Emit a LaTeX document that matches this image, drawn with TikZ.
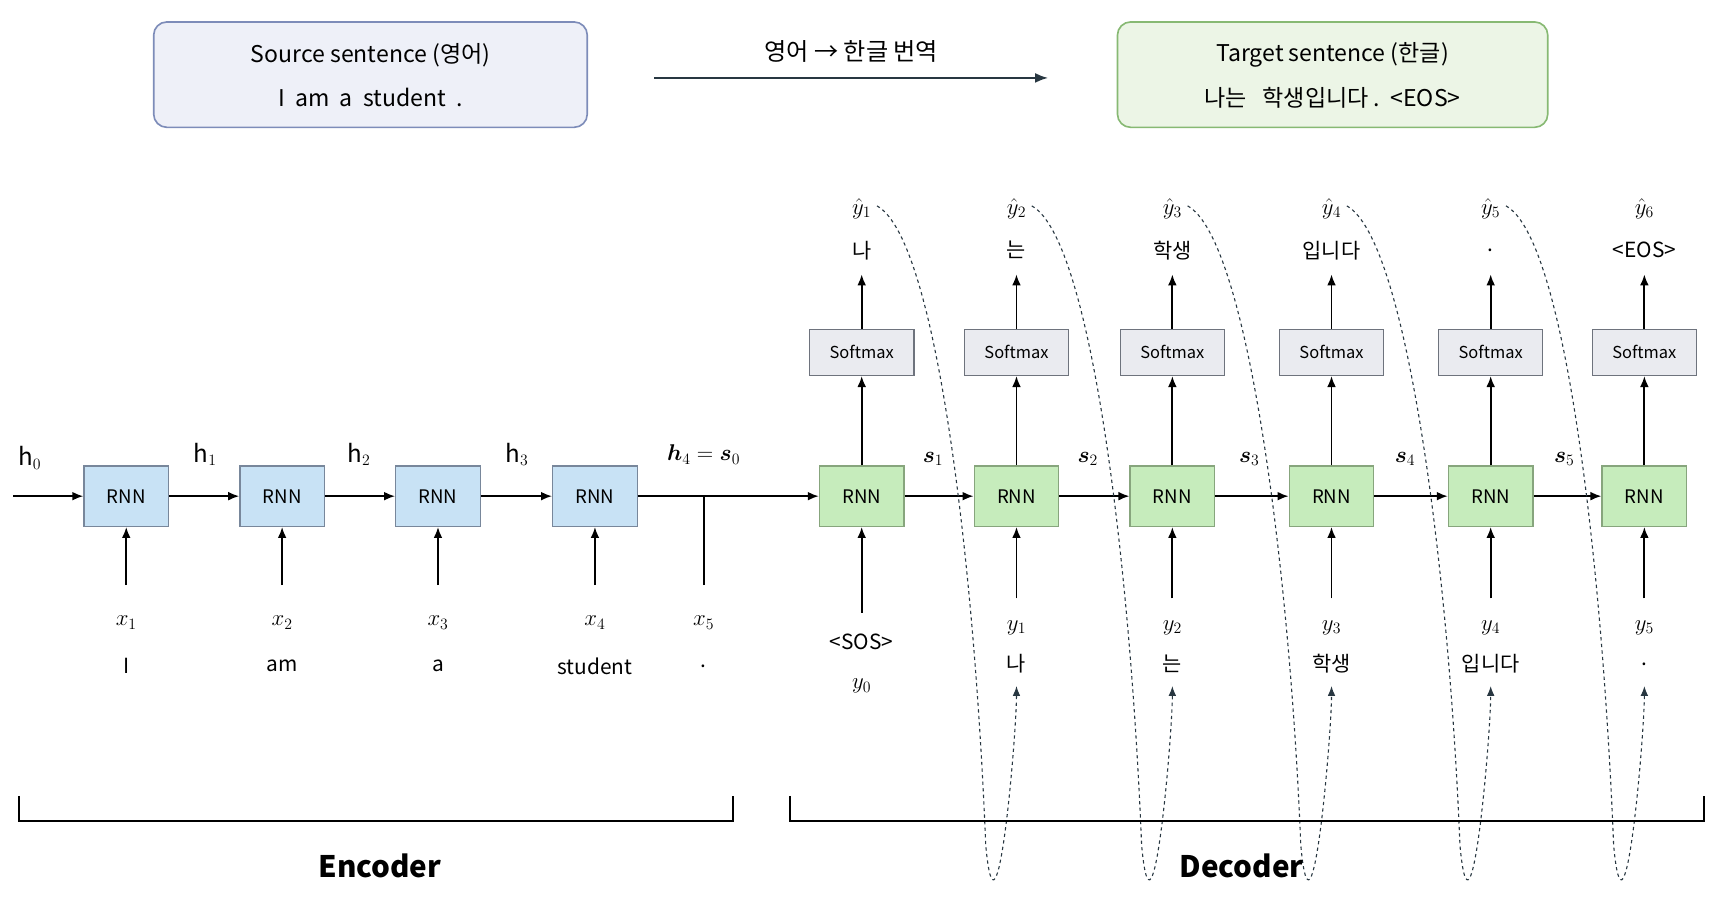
\documentclass[tikz,border=0pt]{standalone}
\usepackage{amsmath}
\usepackage{fontspec}
\setmainfont{Noto Sans CJK KR}
\usetikzlibrary{arrows.meta}

\begin{document}
\begin{tikzpicture}[x=1pt,y=-1pt,
    encbox/.style={shape=rectangle,draw=encline,fill=encfill,line width=1.2pt,minimum width=77pt,minimum height=55pt,font=\fontsize{17}{20}\selectfont},
    decbox/.style={shape=rectangle,draw=decline,fill=decfill,line width=1.2pt,minimum width=77pt,minimum height=55pt,font=\fontsize{17}{20}\selectfont},
    smbox/.style={shape=rectangle,draw=smline,fill=smfill,line width=1.2pt,minimum width=95pt,minimum height=42pt,font=\fontsize{15}{18}\selectfont},
    lbl/.style={font=\fontsize{22}{26}\selectfont,inner sep=1pt},
    word/.style={font=\fontsize{19}{22}\selectfont,inner sep=1pt},
    arr/.style={line width=1.6pt,-{Latex[length=10pt,width=8pt]}},
    fb/.style={dashed,line width=1pt,-{Latex[length=9pt,width=7pt]},draw=black!85,color=fbtip}]
    \definecolor{encfill}{RGB}{200,226,245}
    \definecolor{encline}{RGB}{120,135,155}
    \definecolor{decfill}{RGB}{198,236,188}
    \definecolor{decline}{RGB}{135,165,125}
    \definecolor{smfill}{RGB}{234,235,240}
    \definecolor{smline}{RGB}{110,115,125}
    \definecolor{srcfill}{RGB}{238,240,248}
    \definecolor{srcline}{RGB}{125,140,185}
    \definecolor{tgtfill}{RGB}{236,245,230}
    \definecolor{tgtline}{RGB}{135,185,115}
    \definecolor{fbtip}{RGB}{40,55,65}
    \useasboundingbox (0,0) rectangle (1566,835);
    % top boxes
    \node[shape=rectangle,rounded corners=12pt,draw=srcline,fill=srcfill,line width=1.5pt,minimum width=395pt,minimum height=96pt] (src) at (337.5,68) {};
    \node[font=\fontsize{21}{24}\selectfont] (srct) at (337.5,50) {Source sentence (영어)};
    \node[font=\fontsize{21}{24}\selectfont] (srcs) at (337.5,89) {I\ \ am\ \ a\ \ student\ \ .};
    \node[shape=rectangle,rounded corners=12pt,draw=tgtline,fill=tgtfill,line width=1.5pt,minimum width=392pt,minimum height=96pt] (tgt) at (1214,68) {};
    \node[font=\fontsize{21}{24}\selectfont] (tgtt) at (1214,50) {Target sentence (한글)};
    \node[font=\fontsize{21}{24}\selectfont] (tgts) at (1214,89) {나는\ \ \ 학생입니다\ .\ \ <EOS>};
    \coordinate (ta) at (596,71);
    \coordinate (tb) at (955,71);
    \draw[line width=2pt,draw=fbtip,-{Latex[length=12pt,width=9pt]}] (ta) -- (tb) node[midway,above=10pt,font=\fontsize{22}{26}\selectfont,text=black] (trl) {영어 → 한글 번역};
    % encoder
    \coordinate (hin) at (12,452);
    \node[lbl] (h0) at (27,417) {$\mathrm{h}_0$};
    \foreach \i/\x/\w in {1/115/I,2/257/am,3/399/a,4/542/student} {
        \node[encbox] (enc\i) at (\x,452) {RNN};
        \coordinate (xin\i) at (\x,533);
        \node[lbl] (x\i) at (\x,567) {$x_{\i}$};
        \node[word] (xw\i) at (\x,607) {\w};
        \draw[arr] (xin\i) -- (enc\i);
    }
    \draw[arr] (hin) -- (enc1);
    \foreach \a/\b/\x in {1/2/187,2/3/327,3/4/471} {
        \draw[arr] (enc\a) -- (enc\b);
        \node[lbl] (h\a) at (\x,414) {$\mathrm{h}_{\a}$};
    }
    \node[lbl] (h4) at (641,414) {$\boldsymbol{h}_4=\boldsymbol{s}_0$};
    \coordinate (xin5) at (641,533);
    \coordinate (xj5) at (641,452);
    \draw[line width=1.6pt] (xin5) -- (xj5);
    \node[lbl] (x5) at (641,567) {$x_5$};
    \node[word] (xw5) at (641,607) {.};
    % decoder
    \foreach \i/\x/\o/\w in {1/785/나/<SOS>,2/926/는/나,3/1068/학생/는,4/1213/입니다/학생,5/1358/./입니다,6/1498/<EOS>/.} {
        \node[decbox] (dec\i) at (\x,452) {RNN};
        \node[smbox] (sm\i) at (\x,321) {Softmax};
        \coordinate (yout\i) at (\x,250);
        \node[word] (yo\i) at (\x,228) {\o};
        \node[lbl] (yh\i) at (\x,190) {$\hat{y}_{\i}$};
        \draw[arr] (dec\i) -- (sm\i);
        \draw[arr] (sm\i) -- (yout\i);
        \coordinate (fbend\i) at (\x,625);
    }
    \draw[arr] (enc4) -- (dec1);
    \coordinate (yin1) at (785,558);
    \draw[arr] (yin1) -- (dec1);
    \node[word] (yw1) at (785,585) {<SOS>};
    \node[lbl] (y1) at (785,625) {$y_0$};
    \foreach \i/\x/\w [evaluate=\i as \j using int(\i-1)] in {2/926/나,3/1068/는,4/1213/학생,5/1358/입니다,6/1498/.} {
        \coordinate (yin\i) at (\x,545);
        \draw[arr] (yin\i) -- (dec\i);
        \node[lbl] (y\i) at (\x,572) {$y_{\j}$};
        \node[word] (yw\i) at (\x,605) {\w};
    }
    \foreach \a/\b/\x in {1/2/850,2/3/991,3/4/1138,4/5/1280,5/6/1425} {
        \draw[arr] (dec\a) -- (dec\b);
        \node[lbl] (s\a) at (\x,418) {$\boldsymbol{s}_{\a}$};
        \draw[fb] ([xshift=4pt,yshift=-8pt]yh\a.north east) .. controls +(55,30) and +(-10,-250) .. ([xshift=-28pt,yshift=-145pt]fbend\b) .. controls +(10,110) and +(0,45) .. (fbend\b);
    }
    % brackets
    \draw[line width=1.6pt] (17,725) -- (17,748) -- (668,748) -- (668,725);
    \draw[line width=1.6pt] (720,725) -- (720,748) -- (1552,748) -- (1552,725);
    \node[font=\fontsize{27}{30}\selectfont\bfseries] (encl) at (346,789) {Encoder};
    \node[font=\fontsize{27}{30}\selectfont\bfseries] (decl) at (1131,789) {Decoder};
\end{tikzpicture}
\end{document}
